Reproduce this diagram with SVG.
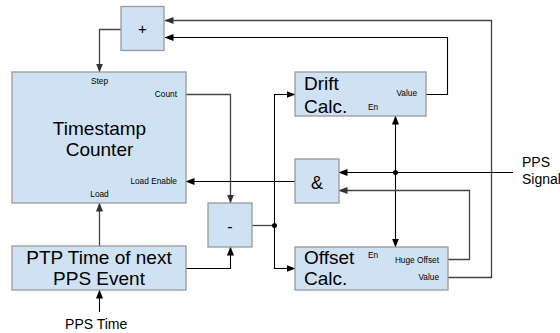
<svg xmlns="http://www.w3.org/2000/svg" width="560" height="333" viewBox="0 0 560 333">
<defs>
<marker id="ah" markerWidth="9" markerHeight="8" refX="8.5" refY="3.5" orient="auto" markerUnits="userSpaceOnUse"><path d="M0,0 L9,3.5 L0,7 z" fill="#000"/></marker>
<marker id="ahg" markerWidth="9" markerHeight="8" refX="8.5" refY="3.5" orient="auto" markerUnits="userSpaceOnUse"><path d="M0,0 L9,3.5 L0,7 z" fill="#333"/></marker>
</defs>
<style>
.box{fill:#cfe2f3;stroke:#999;stroke-width:1.3}
.ln{fill:none;stroke:#000;stroke-width:1.1}
.lg{fill:none;stroke:#444;stroke-width:1.3}
text{font-family:"Liberation Sans",Arial,sans-serif;fill:#000}
.big{font-size:19px}
.sm{font-size:8.3px}
.md{font-size:14px}
</style>
<g id="connectors">
<path class="lg" d="M491.5,277 V20.5 H165" marker-end="url(#ahg)"/>
<path class="ln" d="M426,94.5 H447.5 V37.5 H165" marker-end="url(#ah)"/>
<path class="lg" d="M121,29.5 H99.5 V72" marker-end="url(#ahg)"/>
<path class="lg" d="M186,94.5 H230.5 V203" marker-end="url(#ahg)"/>
<path class="ln" d="M186,268.5 H230.5 V247" marker-end="url(#ah)"/>
<path class="lg" d="M99.5,246 V203" marker-end="url(#ahg)"/>
<path class="ln" d="M99.5,312 V290" marker-end="url(#ah)"/>
<path class="lg" d="M252,225.5 H274.5"/>
<path class="ln" d="M274.5,225.5 V94.5 H295" marker-end="url(#ah)"/>
<path class="ln" d="M274.5,225.5 V268.5 H295" marker-end="url(#ah)"/>
<circle cx="274.5" cy="225.5" r="2.5" fill="#000"/>
<path class="ln" d="M295,181.5 H186" marker-end="url(#ah)"/>
<path class="ln" d="M513,172.5 H339" marker-end="url(#ah)"/>
<circle cx="395.5" cy="172.5" r="2.5" fill="#000"/>
<path class="ln" d="M395.5,172.5 V116" marker-end="url(#ah)"/>
<path class="ln" d="M395.5,172.5 V247" marker-end="url(#ah)"/>
<path class="lg" d="M448,259.5 H469.5 V190.5 H339" marker-end="url(#ahg)"/>
<path class="lg" d="M448,277.5 H491.5 V276"/>
</g>
<g id="plus"><rect class="box" x="121" y="6.5" width="43" height="44"/><text x="142.5" y="33.5" font-size="15" text-anchor="middle">+</text></g>
<g id="timestamp"><rect class="box" x="12" y="72" width="174" height="131"/>
<text class="sm" x="99.5" y="83.5" text-anchor="middle">Step</text>
<text class="sm" x="177" y="96.5" text-anchor="end">Count</text>
<text class="big" x="99.5" y="134.5" text-anchor="middle">Timestamp</text>
<text class="big" x="99.5" y="156" text-anchor="middle">Counter</text>
<text class="sm" x="177" y="184" text-anchor="end">Load Enable</text>
<text class="sm" x="99.5" y="197" text-anchor="middle">Load</text></g>
<g id="ptp"><rect class="box" x="12" y="246" width="174" height="44"/>
<text class="big" x="99" y="263.5" text-anchor="middle">PTP Time of next</text>
<text class="big" x="99" y="284.5" text-anchor="middle">PPS Event</text></g>
<g id="minus"><rect class="box" x="208" y="203" width="44" height="44"/><text x="230" y="232" font-size="16" text-anchor="middle">-</text></g>
<g id="drift"><rect class="box" x="295" y="72" width="131" height="44"/>
<text class="big" x="304" y="90">Drift</text>
<text class="big" x="304" y="112.5">Calc.</text>
<text class="sm" x="417" y="96" text-anchor="end">Value</text>
<text class="sm" x="368" y="109.5">En</text></g>
<g id="and"><rect class="box" x="295" y="159" width="44" height="44"/><text x="317" y="188.5" font-size="18" text-anchor="middle">&amp;</text></g>
<g id="offset"><rect class="box" x="295" y="247" width="153" height="43"/>
<text class="big" x="304" y="263.5">Offset</text>
<text class="big" x="304" y="284.5">Calc.</text>
<text class="sm" x="368" y="258">En</text>
<text class="sm" x="439" y="262.5" text-anchor="end">Huge Offset</text>
<text class="sm" x="439" y="279.5" text-anchor="end">Value</text></g>
<g id="labels">
<text class="md" x="96.2" y="328.5" text-anchor="middle">PPS Time</text>
<text class="md" x="522" y="167">PPS</text>
<text class="md" x="522" y="184">Signal</text></g>
</svg>
